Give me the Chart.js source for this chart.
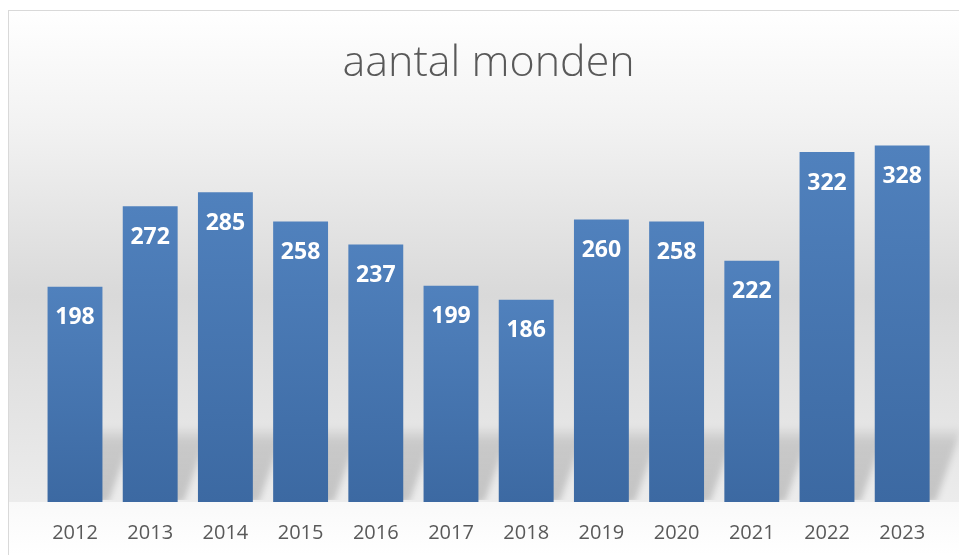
<!DOCTYPE html>
<html>
<head>
<meta charset="utf-8">
<script src="https://cdn.jsdelivr.net/npm/chart.js@4.4.0/dist/chart.umd.min.js"></script>
<style>
  html, body { margin: 0; padding: 0; background: #fff; }
  #wrap { position: relative; width: 959px; height: 555px; }
</style>
</head>
<body>
<div id="wrap"><canvas id="chart"></canvas></div>
<script>
// Data
const years = ['2012', '2013', '2014', '2015', '2016', '2017', '2018', '2019', '2020', '2021', '2022', '2023'];
const monden = [198, 272, 285, 258, 237, 199, 186, 260, 258, 222, 322, 328];
const titleText = 'aantal monden';

// Chart frame + grey gradient background
const backdrop = {
  id: 'backdrop',
  beforeDraw(c) {
    const { ctx, chartArea } = c;
    ctx.save();
    const g = ctx.createLinearGradient(0, 10, 0, chartArea.bottom);
    g.addColorStop(0, '#ffffff');
    g.addColorStop(0.25, '#f1f1f1');
    g.addColorStop(0.58, '#d9d9d9');
    g.addColorStop(1, '#ececec');
    ctx.fillStyle = g;
    ctx.fillRect(8, 10, c.width, chartArea.bottom - 10);
    const g2 = ctx.createLinearGradient(0, chartArea.bottom, 0, c.height);
    g2.addColorStop(0, '#f9f9f9');
    g2.addColorStop(1, '#ffffff');
    ctx.fillStyle = g2;
    ctx.fillRect(8, chartArea.bottom, c.width, c.height - chartArea.bottom);
    ctx.strokeStyle = '#d9d9d9';
    ctx.lineWidth = 1;
    ctx.strokeRect(8.5, 10.5, c.width + 20, c.height + 20);
    ctx.restore();
  },
};

// Soft slanted shadow behind each bar
const barShadow = {
  id: 'barShadow',
  beforeDatasetsDraw(c) {
    const { ctx } = c;
    const meta = c.getDatasetMeta(0);
    ctx.save();
    ctx.beginPath();
    ctx.rect(0, 0, c.width, c.chartArea.bottom - 2);
    ctx.clip();
    ctx.filter = 'blur(3px)';
    meta.data.forEach((bar) => {
      const left = bar.x - bar.width / 2;
      const right = bar.x + bar.width / 2;
      const base = bar.base;
      const h = 74;
      const skew = 26;
      const g = ctx.createLinearGradient(0, base, 0, base - h);
      g.addColorStop(0, 'rgba(0,0,0,0.17)');
      g.addColorStop(0.8, 'rgba(0,0,0,0.13)');
      g.addColorStop(1, 'rgba(0,0,0,0.02)');
      ctx.fillStyle = g;
      ctx.beginPath();
      ctx.moveTo(left + 6, base);
      ctx.lineTo(right + 6, base);
      ctx.lineTo(right + 6 + skew, base - h);
      ctx.lineTo(left + 6 + skew, base - h);
      ctx.closePath();
      ctx.fill();
    });
    ctx.restore();
  },
};

// White value labels inside the bars
const valueLabels = {
  id: 'valueLabels',
  afterDatasetsDraw(c) {
    const { ctx } = c;
    const meta = c.getDatasetMeta(0);
    ctx.save();
    ctx.fillStyle = '#ffffff';
    ctx.font = 'bold 23px "Open Sans"';
    ctx.textAlign = 'center';
    ctx.textBaseline = 'middle';
    meta.data.forEach((bar, i) => {
      ctx.fillText(String(monden[i]), bar.x, bar.y + 31);
    });
    ctx.restore();
  },
};

const ctx = document.getElementById('chart');
// eslint-disable-next-line no-unused-vars
const chart = new Chart(ctx, {
  type: 'bar',
  data: {
    labels: years,
    datasets: [{
      label: titleText,
      data: monden,
      backgroundColor: (context) => {
        const c = context.chart;
        if (!c.chartArea || context.type !== 'data') return '#4672ae';
        const y = c.scales.y;
        const top = y.getPixelForValue(context.raw);
        const bottom = y.getPixelForValue(0);
        const g = c.ctx.createLinearGradient(0, top, 0, bottom);
        g.addColorStop(0, '#5081bd');
        g.addColorStop(1, '#3c69a2');
        return g;
      },
      borderWidth: 0,
      categoryPercentage: 0.73,
      barPercentage: 1,
    }],
  },
  options: {
    responsive: true,
    maintainAspectRatio: false,
    animation: false,
    layout: {
      padding: { left: 37.4, right: 19.2, top: 0, bottom: -9 },
    },
    scales: {
      y: {
        display: false,
        min: 0,
        max: 350,
      },
      x: {
        grid: { display: false, drawTicks: false },
        border: { display: false },
        ticks: {
          color: '#595959',
          font: { family: '"Open Sans"', size: 20 },
          padding: 19,
          maxRotation: 0,
        },
      },
    },
    plugins: {
      legend: { display: false },
      tooltip: { enabled: false },
      title: {
        display: true,
        text: titleText,
        color: '#595959',
        font: { family: '"Open Sans"', size: 43, weight: 300 },
        padding: { top: 38, bottom: 32 },
      },
    },
  },
  plugins: [backdrop, barShadow, valueLabels],
});
</script>
</body>
</html>
